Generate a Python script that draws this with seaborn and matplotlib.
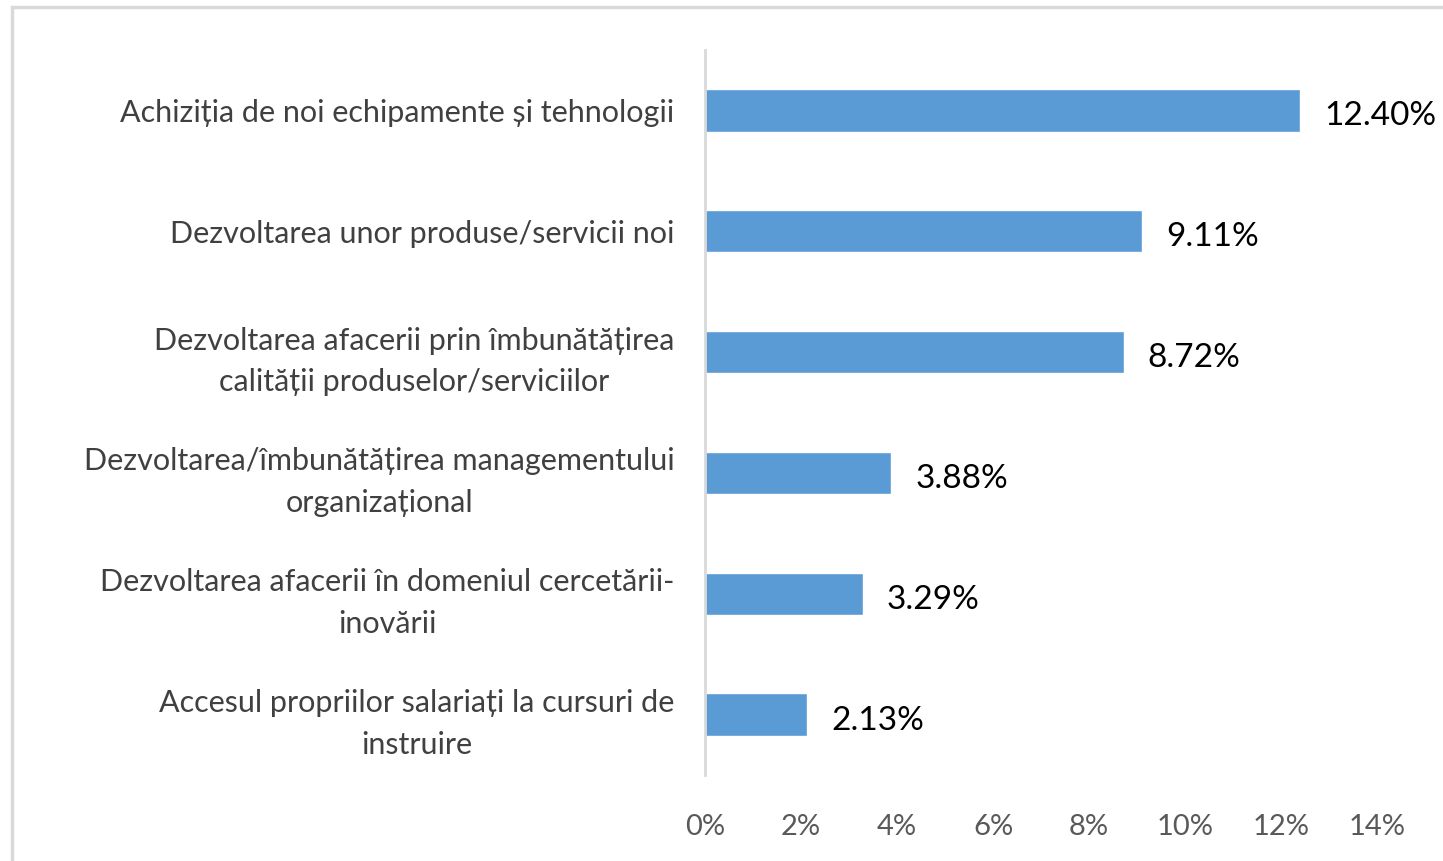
import pandas as pd
import matplotlib.pyplot as plt
import seaborn as sns
from matplotlib.patches import Rectangle
from matplotlib.ticker import FuncFormatter

sns.set_theme(style="white")
plt.rcParams['font.family'] = ['Lato', 'DejaVu Sans']

categories = [
    "Achiziția de noi echipamente și tehnologii",
    "Dezvoltarea unor produse/servicii noi",
    "Dezvoltarea afacerii prin îmbunătățirea\ncalității produselor/serviciilor",
    "Dezvoltarea/îmbunătățirea managementului\norganizațional",
    "Dezvoltarea afacerii în domeniul cercetării-\ninovării",
    "Accesul propriilor salariați la cursuri de\ninstruire",
]
values = [12.40, 9.11, 8.72, 3.88, 3.29, 2.13]
x_ticks = [0, 2, 4, 6, 8, 10, 12, 14]

df = pd.DataFrame({'categorie': categories, 'procent': values})

fig = plt.figure(figsize=(14.43, 8.61), dpi=100)
ax = fig.add_axes([705 / 1443, 1 - 775 / 861, 672 / 1443, 725 / 861])

sns.barplot(data=df, y='categorie', x='procent', orient='h', color='#5B9BD5',
            width=0.35, saturation=1, ax=ax)

#value labels right of each bar
for i, v in enumerate(values):
    ax.text(v + 0.5, i + 0.05, f"{v:.2f}%", va='center', ha='left',
            fontsize=24, color='black')

ax.set_xlim(0, 14)
ax.set_xticks(x_ticks)
ax.xaxis.set_major_formatter(FuncFormatter(lambda v, p: f"{v:.0f}%"))
ax.set_xlabel("")
ax.set_ylabel("")
ax.tick_params(axis='x', length=0, pad=28, labelsize=21, labelcolor='#595959')
ax.tick_params(axis='y', length=0, pad=22, labelsize=22, labelcolor='#404040')
for lab in ax.get_yticklabels():
    lab.set_multialignment('center')
    lab.set_linespacing(1.6)

for s in ['top', 'right', 'bottom']:
    ax.spines[s].set_visible(False)
ax.spines['left'].set_color('#D9D9D9')
ax.spines['left'].set_linewidth(2)

# chart border
fig.patches.append(Rectangle((12 / 1443, -0.1), 1.2, 1 - 7 / 861 + 0.1,
                             transform=fig.transFigure, fill=False,
                             edgecolor='#D9D9D9', linewidth=2.5))

fig.savefig('out.png', dpi=100)
